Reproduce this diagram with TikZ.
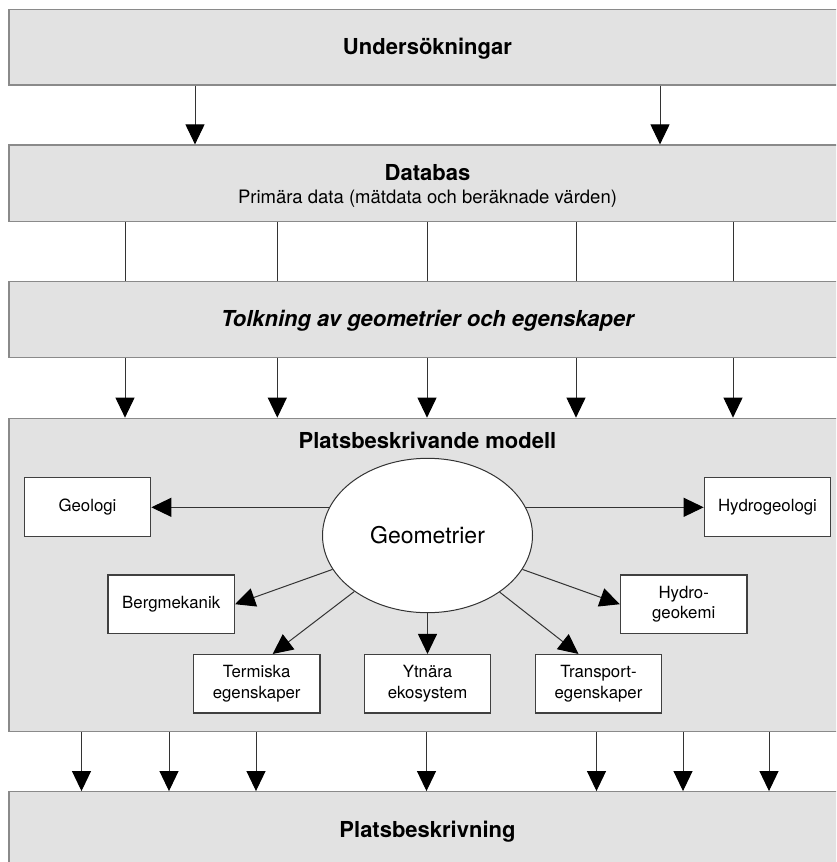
\documentclass[tikz,border=0pt]{standalone}
\usepackage{fontspec}
\setmainfont{TeX Gyre Heros}
\usetikzlibrary{arrows.meta,shapes.geometric}
\definecolor{boxfill}{HTML}{E2E2E2}
\definecolor{boxline}{HTML}{8A8A8A}
\definecolor{inline}{HTML}{404040}
\definecolor{conn}{HTML}{333333}
\begin{document}
\begin{tikzpicture}[x=1pt,y=-1pt,
  outerbox/.style={draw=boxline, fill=boxfill, line width=1.3pt, minimum width=837pt, inner sep=0pt},
  title/.style={font=\fontsize{22}{26}\selectfont\bfseries, inner sep=0pt},
  ibox/.style={draw=inline, fill=white, line width=1.2pt, minimum width=126.5pt, minimum height=58.5pt, inner sep=0pt, align=center, font=\fontsize{16.8}{20.3}\selectfont},
  ln/.style={draw=conn, line width=1pt},
  arr/.style={draw=conn, line width=1pt, -{Triangle[length=20pt,width=19pt,color=black]}}
]
\useasboundingbox (0,0) rectangle (836,862);
\clip (0,0) rectangle (836,862);

% outer boxes
\node[outerbox, minimum height=75.7pt] (und) at (427.5,47.2) {};
\node[title] (undt) at (427.5,49) {Undersökningar};
\node[outerbox, minimum height=76.7pt] (db) at (427.5,183.4) {};
\node[title] (dbt) at (427.5,173) {Databas};
\node[font=\fontsize{18.5}{22}\selectfont, inner sep=0pt] (dbs) at (427.5,199) {Primära data (mätdata och beräknade värden)};
\node[outerbox, minimum height=76pt] (tolk) at (427.5,319.7) {};
\node[title, font=\fontsize{22}{26}\selectfont\bfseries\itshape] (tolkt) at (427.5,321) {Tolkning av geometrier och egenskaper};
\node[outerbox, minimum height=313.4pt] (mod) at (427.5,575) {};
\node[title] (modt) at (427.5,440) {Platsbeskrivande modell};
\node[outerbox, minimum height=76pt] (pb) at (427.5,829.7) {};
\node[title] (pbt) at (427.5,832) {Platsbeskrivning};

% column coordinates
\coordinate (ua) at (195,0);
\coordinate (ub) at (660,0);
\coordinate (c1) at (125,0);
\coordinate (c2) at (277.3,0);
\coordinate (c3) at (427,0);
\coordinate (c4) at (576,0);
\coordinate (c5) at (733,0);
\coordinate (d1) at (81.5,0);
\coordinate (d2) at (169,0);
\coordinate (d3) at (256,0);
\coordinate (d4) at (426.5,0);
\coordinate (d5) at (596.5,0);
\coordinate (d6) at (683,0);
\coordinate (d7) at (769,0);

\foreach \c in {ua,ub}
  \draw[arr] (und.south -| \c) -- (db.north -| \c);
\foreach \c in {c1,c2,c3,c4,c5}{
  \draw[ln] (db.south -| \c) -- (tolk.north -| \c);
  \draw[arr] (tolk.south -| \c) -- (mod.north -| \c);
}
\foreach \c in {d1,d2,d3,d4,d5,d6,d7}
  \draw[arr] (mod.south -| \c) -- (pb.north -| \c);

% inner model
\node[ellipse, draw=conn, fill=white, line width=1pt, minimum width=210pt, minimum height=154.4pt, inner sep=0pt, font=\fontsize{23}{27}\selectfont] (geo) at (427.5,535.5) {Geometrier};

\node[ibox] (geol) at (87.5,506.9) {Geologi};
\node[ibox] (hgeol) at (767.5,506.9) {Hydrogeologi};
\node[ibox] (berg) at (171.2,604.2) {Bergmekanik};
\node[ibox] (hgk) at (683.7,604.2) {Hydro-\\geokemi};
\node[ibox] (term) at (256.7,683.8) {Termiska\\egenskaper};
\node[ibox] (ytn) at (427.5,683.8) {Ytnära\\ekosystem};
\node[ibox] (trans) at (598.5,683.8) {Transport-\\egenskaper};

\draw[arr] (geo.164) -- (geo.164 -| geol.east);
\draw[arr] (geo.16) -- (geo.16 -| hgeol.west);
\draw[arr] (geo) -- (berg.east);
\draw[arr] (geo) -- (hgk.west);
\draw[arr] (geo) -- ([xshift=16pt]term.north);
\draw[arr] (geo) -- (ytn.north);
\draw[arr] (geo) -- ([xshift=-20pt]trans.north);
\end{tikzpicture}
\end{document}
